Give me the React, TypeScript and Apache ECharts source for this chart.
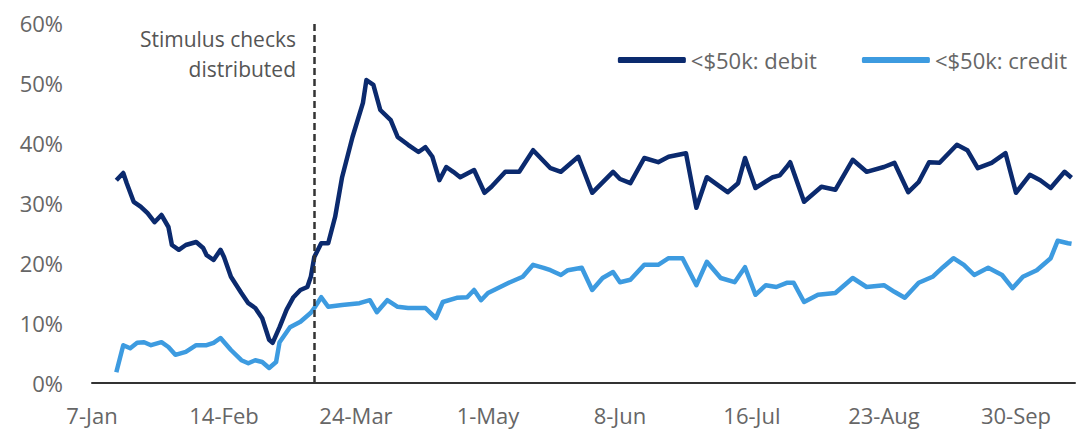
import React, { useEffect, useRef } from "react";
import * as echarts from "echarts";

// x = days since 7-Jan, y = percent
const tickLabels = ["7-Jan", "14-Feb", "24-Mar", "1-May", "8-Jun", "16-Jul", "23-Aug", "30-Sep"];

const debitDays = [7, 9, 10, 12, 14, 16, 18, 20, 22, 23, 25, 27, 30, 32, 33, 35, 37, 38, 40, 43, 45, 47, 49, 51, 52, 54, 56, 58, 60, 62, 63, 64, 66, 68, 70, 72, 75, 78, 79, 81, 83, 86, 88, 91, 94, 96, 98, 100, 102, 104, 106, 110, 113, 115, 119, 123, 127, 132, 135, 140, 144, 150, 152, 155, 159, 163, 166, 171, 174, 177, 183, 186, 188, 191, 196, 198, 200, 201, 205, 210, 214, 219, 223, 228, 231, 235, 238, 241, 244, 249, 252, 255, 259, 263, 266, 270, 273, 276, 280, 282];
const debitPct = [33.8, 35.0, 33.3, 30.2, 29.4, 28.3, 26.8, 28.0, 26.0, 23.0, 22.2, 23.0, 23.5, 22.5, 21.3, 20.5, 22.2, 21.0, 17.7, 15.0, 13.3, 12.5, 10.8, 7.2, 6.7, 9.3, 12.2, 14.3, 15.5, 16.0, 17.7, 21.0, 23.3, 23.3, 27.7, 34.3, 41.0, 46.7, 50.5, 49.7, 45.5, 43.8, 41.0, 39.7, 38.5, 39.3, 37.7, 33.8, 36.0, 35.2, 34.3, 35.5, 31.7, 32.7, 35.2, 35.2, 38.8, 35.8, 35.2, 37.7, 31.7, 35.2, 34.0, 33.3, 37.5, 36.8, 37.7, 38.3, 29.2, 34.3, 31.8, 33.3, 37.5, 32.5, 34.3, 34.6, 36.0, 36.8, 30.2, 32.7, 32.2, 37.2, 35.2, 36.0, 36.7, 31.8, 33.5, 36.8, 36.7, 39.7, 38.8, 35.8, 36.7, 38.3, 31.7, 34.7, 33.8, 32.5, 35.2, 34.2];

const creditDays = [7, 9, 11, 13, 15, 17, 20, 22, 24, 27, 30, 33, 35, 37, 40, 43, 45, 47, 49, 51, 53, 54, 57, 60, 63, 64, 66, 68, 72, 77, 80, 82, 85, 88, 91, 96, 99, 101, 105, 108, 110, 112, 114, 120, 124, 127, 130, 132, 135, 137, 141, 144, 147, 150, 152, 155, 159, 163, 166, 170, 174, 177, 181, 185, 188, 191, 194, 197, 200, 202, 205, 209, 214, 219, 223, 228, 231, 234, 238, 242, 245, 248, 251, 254, 258, 262, 265, 268, 272, 276, 278, 281, 282];
const creditPct = [1.8, 6.3, 5.8, 6.7, 6.8, 6.3, 6.8, 6.0, 4.7, 5.2, 6.3, 6.3, 6.7, 7.5, 5.5, 3.8, 3.3, 3.8, 3.5, 2.5, 3.5, 6.8, 9.3, 10.2, 11.7, 12.5, 14.3, 12.7, 13.0, 13.3, 13.8, 11.8, 13.8, 12.7, 12.5, 12.5, 10.8, 13.5, 14.2, 14.3, 15.5, 13.8, 15.0, 16.7, 17.7, 19.7, 19.2, 18.8, 18.0, 18.8, 19.2, 15.5, 17.5, 18.5, 16.8, 17.2, 19.7, 19.7, 20.8, 20.8, 16.3, 20.2, 17.5, 16.8, 19.3, 14.7, 16.3, 16.0, 16.7, 16.7, 13.5, 14.7, 15.0, 17.5, 16.0, 16.3, 15.2, 14.2, 16.7, 17.7, 19.3, 20.8, 19.7, 18.0, 19.2, 18.0, 15.8, 17.7, 18.8, 20.8, 23.7, 23.3, 23.2];

const stimulusDay = 64;
const seriesNames = ["<$50k: debit", "<$50k: credit"];

const FONT = "'Open Sans', sans-serif";
const TEXT = "#666666";

export default function App() {
  const ref = useRef<HTMLDivElement>(null);
  useEffect(() => {
    if (!ref.current) return;
    const chart = echarts.init(ref.current, null, { renderer: "svg" });
    const debit = debitDays.map((d, i) => [d, debitPct[i]]);
    const credit = creditDays.map((d, i) => [d, creditPct[i]]);
    chart.setOption({
      animation: false,
      backgroundColor: "#ffffff",
      grid: { left: 92, right: 7, top: 23, bottom: 53 },
      legend: {
        data: seriesNames,
        right: 10,
        top: 44,
        icon: "roundRect",
        itemWidth: 68,
        itemHeight: 6,
        itemGap: 45,
        textStyle: { fontFamily: FONT, fontSize: 22, color: TEXT },
      },
      xAxis: {
        type: "value",
        min: 0,
        max: 283,
        interval: 38,
        axisLine: { show: true, lineStyle: { color: "#333333", width: 2 } },
        axisTick: { show: false },
        splitLine: { show: false },
        axisLabel: {
          margin: 21,
          fontFamily: FONT,
          fontSize: 22,
          color: TEXT,
          showMaxLabel: false,
          formatter: (v: number) => (v % 38 === 0 ? tickLabels[v / 38] ?? "" : ""),
        },
      },
      yAxis: {
        type: "value",
        min: 0,
        max: 60,
        interval: 10,
        axisLine: { show: false },
        axisTick: { show: false },
        splitLine: { show: false },
        axisLabel: {
          margin: 29,
          fontFamily: FONT,
          fontSize: 22,
          color: TEXT,
          formatter: "{value}%",
        },
      },
      graphic: [
        {
          type: "text",
          x: 296,
          y: 24,
          style: {
            text: "Stimulus checks\ndistributed",
            fontFamily: FONT,
            fontSize: 21,
            lineHeight: 30,
            fill: "#555555",
            align: "right",
            verticalAlign: "top",
          },
        },
      ],
      series: [
        {
          name: seriesNames[0],
          type: "line",
          data: debit,
          showSymbol: false,
          color: "#0b2a6e",
          lineStyle: { width: 4.5, color: "#0b2a6e", join: "round" },
          z: 3,
          markLine: {
            silent: true,
            symbol: "none",
            label: { show: false },
            lineStyle: { color: "#333333", width: 2.5, type: [7, 4] },
            data: [{ xAxis: stimulusDay }],
          },
        },
        {
          name: seriesNames[1],
          type: "line",
          data: credit,
          showSymbol: false,
          color: "#3d9be0",
          lineStyle: { width: 4.5, color: "#3d9be0", join: "round" },
          z: 2,
        },
      ],
    });
    return () => chart.dispose();
  }, []);
  return (
    <div
      ref={ref}
      style={{ position: "absolute", left: 0, top: 0, width: 1082, height: 436 }}
    />
  );
}
